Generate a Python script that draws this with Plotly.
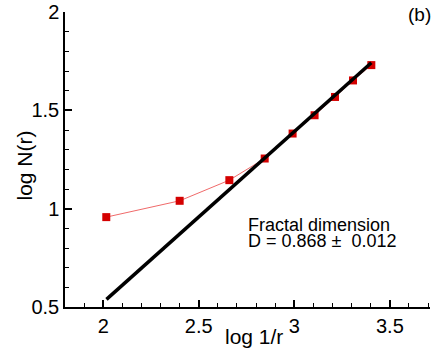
import plotly.graph_objects as go

# data
log_inv_r = [2.016, 2.40, 2.66, 2.845, 2.991, 3.106, 3.213, 3.307, 3.403]
log_N = [0.957, 1.04, 1.145, 1.255, 1.382, 1.475, 1.568, 1.652, 1.73]
fit_x = [2.017, 3.403]
slope = 0.868
intercept = -1.212
fit_y = [intercept + slope * x for x in fit_x]
x_ticks = [2, 2.5, 3, 3.5]
y_ticks = [0.5, 1, 1.5, 2]

FONT = "Liberation Sans, Arial, Helvetica, sans-serif"

fig = go.Figure()
fig.add_trace(go.Scatter(
    x=log_inv_r, y=log_N, mode="lines+markers",
    line=dict(color="#f06a6a", width=1),
    marker=dict(symbol="square", size=8, color="#d40000"),
    showlegend=False, cliponaxis=False,
))
fig.add_trace(go.Scatter(
    x=fit_x, y=fit_y, mode="lines",
    line=dict(color="black", width=3.5),
    showlegend=False,
))

axis_common = dict(
    showgrid=False, zeroline=False, showline=True, linecolor="black",
    linewidth=1.5, ticks="inside", ticklen=7, tickwidth=1.5, tickcolor="black",
    tickfont=dict(family=FONT, size=20, color="black"),
    minor=dict(ticks="inside", ticklen=4, tickwidth=1, tickcolor="black", dtick=0.1),
    mirror=False, automargin=False,
)
fig.update_xaxes(range=[1.8, 3.71], tickvals=x_ticks, ticktext=[str(v) for v in x_ticks],
                 **axis_common)
fig.update_yaxes(range=[0.5, 2], tickvals=y_ticks, ticktext=[str(v) for v in y_ticks],
                 **axis_common)

fig.update_layout(
    width=444, height=354,
    margin=dict(l=65, r=14, t=12, b=47),
    plot_bgcolor="white", paper_bgcolor="white",
    annotations=[
        dict(text="log 1/r", xref="paper", yref="paper", x=0.518, y=-0.10,
             xanchor="center", yanchor="middle", showarrow=False,
             font=dict(family=FONT, size=21, color="black")),
        dict(text="log N(r)", xref="paper", yref="paper", x=-0.112, y=0.48,
             xanchor="center", yanchor="middle", showarrow=False, textangle=-90,
             font=dict(family=FONT, size=21, color="black")),
        dict(text="Fractal dimension", xref="paper", yref="paper", x=0.495, y=0.278,
             xanchor="left", yanchor="middle", showarrow=False,
             font=dict(family=FONT, size=18, color="black")),
        dict(text="D = 0.868 ±  0.012", xref="paper", yref="paper", x=0.495, y=0.225,
             xanchor="left", yanchor="middle", showarrow=False,
             font=dict(family=FONT, size=18, color="black")),
        dict(text="(b)", xref="paper", yref="paper", x=0.97, y=0.99,
             xanchor="center", yanchor="middle", showarrow=False,
             font=dict(family=FONT, size=19, color="black")),
    ],
)

# remove the default 8px page margin so the figure fills the window exactly
fig.write_html(
    "out.html",
    config={"displayModeBar": False},
    post_script="document.body.style.margin='0';document.body.style.overflow='hidden';",
)
